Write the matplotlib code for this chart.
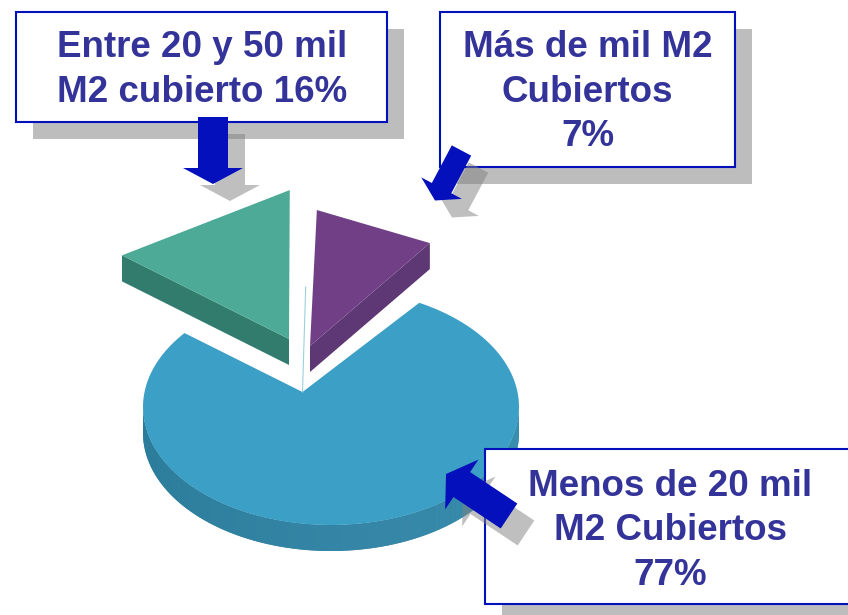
import numpy as np
import matplotlib
matplotlib.use('Agg')
import matplotlib.pyplot as plt
from matplotlib.patches import Polygon, Rectangle


# Datos del grafico
categorias = ['Menos de 20 mil\nM2 Cubiertos\n77%',
              'Entre 20 y 50 mil\nM2 cubierto 16%',
              'Más de mil M2\nCubiertos\n7%']
porcentajes = [77, 16, 7]

# Estilo de cada porcion (mismo orden que los datos)
colores_top = ['#3C9FC5', '#4DAA96', '#703F86']
colores_lado = ['#3484A5', '#317C6C', '#5E3874']
centros = [(331, 407), (300.5, 318.5), (255.5, 385.2)]
escalas = [1.0, 1.09, 1.52]
inicios = [298, 209.4, 282.4]
ajuste_barrido = [1.013, 1.0, 1.0]  # la perspectiva abre un poco la porcion grande
vertices = [(302.5, 392), (289, 339), (310, 346)]
RX, RY = 188, 118
ALTO = 26

COLOR_TEXTO = '#333399'
COLOR_BORDE = '#0010BB'
COLOR_FLECHA = '#0310BB'
SOMBRA = 17


def arco(i):
    barrido = porcentajes[i] * 3.6 * ajuste_barrido[i]
    t = np.radians(np.linspace(inicios[i], inicios[i] + barrido, 200))
    x = centros[i][0] + RX * escalas[i] * np.cos(t)
    y = centros[i][1] + RY * escalas[i] * np.sin(t)
    return x, y


def flecha(cola, punta, ancho, ancho_cabeza, largo_cabeza):
    cola = np.array(cola, dtype=float)
    punta = np.array(punta, dtype=float)
    d = (punta - cola) / np.linalg.norm(punta - cola)
    n = np.array([-d[1], d[0]])
    base = punta - d * largo_cabeza
    return np.array([cola + n * ancho / 2, base + n * ancho / 2,
                     base + n * ancho_cabeza / 2, punta,
                     base - n * ancho_cabeza / 2, base - n * ancho / 2,
                     cola - n * ancho / 2])


fig = plt.figure(figsize=(8.48, 6.15), dpi=100)
ax = fig.add_axes([0, 0, 1, 1])
ax.set_xlim(0, 848)
ax.set_ylim(615, 0)
ax.axis('off')

# Porcion grande: pared frontal con degradado y cara superior
x, y = arco(0)
t = np.radians(np.linspace(0, 180, 90))
wx = centros[0][0] + RX * np.cos(t)
wy = centros[0][1] + RY * np.sin(t)
ax.add_patch(Polygon(np.column_stack([np.r_[wx, wx[::-1]], np.r_[wy, wy[::-1] + ALTO]]),
                     closed=True, fc=colores_lado[0], ec='none', zorder=1))
pared_claro = np.array(matplotlib.colors.to_rgb('#3A90B0'))
pared_medio = np.array(matplotlib.colors.to_rgb(colores_lado[0]))
pared_oscuro = np.array(matplotlib.colors.to_rgb('#2A7A99'))
for k in range(len(t) - 1):
    f = k / (len(t) - 2)
    if f < 0.5:
        c = pared_claro + (pared_medio - pared_claro) * f * 2
    else:
        c = pared_medio + (pared_oscuro - pared_medio) * (f - 0.5) * 2
    ax.add_patch(Polygon([(wx[k], wy[k]), (wx[k + 1], wy[k + 1]),
                          (wx[k + 1], wy[k + 1] + ALTO), (wx[k], wy[k] + ALTO)],
                         closed=True, fc=c, ec='none', zorder=1))
ax.add_patch(Polygon(np.column_stack([np.r_[vertices[0][0], x], np.r_[vertices[0][1], y]]),
                     closed=True, fc=colores_top[0], ec='none', zorder=2))

# Linea fina que queda entre las dos porciones separadas
ax.plot([302.5, 305.7], [392, 287], color='#9CCFE2', lw=0.8, zorder=2)

# Porciones separadas: pared lateral y cara superior (borde exterior recto)
for i in [1, 2]:
    x, y = arco(i)
    vx, vy = vertices[i]
    # la pared visible sale del extremo que da al frente
    ex, ey = (x[0], y[0]) if i == 1 else (x[-1], y[-1])
    ax.add_patch(Polygon([(ex, ey), (vx, vy), (vx, vy + ALTO), (ex, ey + ALTO)],
                         closed=True, fc=colores_lado[i], ec='none', zorder=3))
    ax.add_patch(Polygon([(vx, vy), (x[0], y[0]), (x[-1], y[-1])],
                         closed=True, fc=colores_top[i], ec='none', zorder=4))

# Cuadros de texto con sombra
cajas = [(16, 12, 371, 110), (440, 12, 295, 155), (485, 449, 375, 155)]
for cx, cy, w, h in cajas:
    ax.add_patch(Rectangle((cx + SOMBRA, cy + SOMBRA), w, h, fc='#BDBDBD', ec='none', zorder=5))
    ax.add_patch(Rectangle((cx, cy), w, h, fc='white', ec=COLOR_BORDE, lw=1.5, zorder=6))

# Flechas con sombra
flechas = [((213, 117), (213, 184), 30, 60, 16),
           ((461.5, 150.5), (435, 200.5), 22, 46, 14),
           ((509, 516), (446, 474), 30, 60, 19)]
for fl in flechas:
    puntos = flecha(*fl)
    ax.add_patch(Polygon(puntos + SOMBRA, closed=True, fc='#808080', ec='none', alpha=0.5, zorder=7))
    ax.add_patch(Polygon(puntos, closed=True, fc=COLOR_FLECHA, ec='none', zorder=8))

# Textos
posiciones = [(670.5, 531), (202.5, 70), (587.5, 92)]
for texto, (px, py) in zip(categorias, posiciones):
    ax.text(px, py, texto, ha='center', va='center', color=COLOR_TEXTO, fontsize=26.5,
            fontweight='bold', family='Liberation Sans', linespacing=1.34, zorder=9)

fig.savefig('out.png', dpi=100)
